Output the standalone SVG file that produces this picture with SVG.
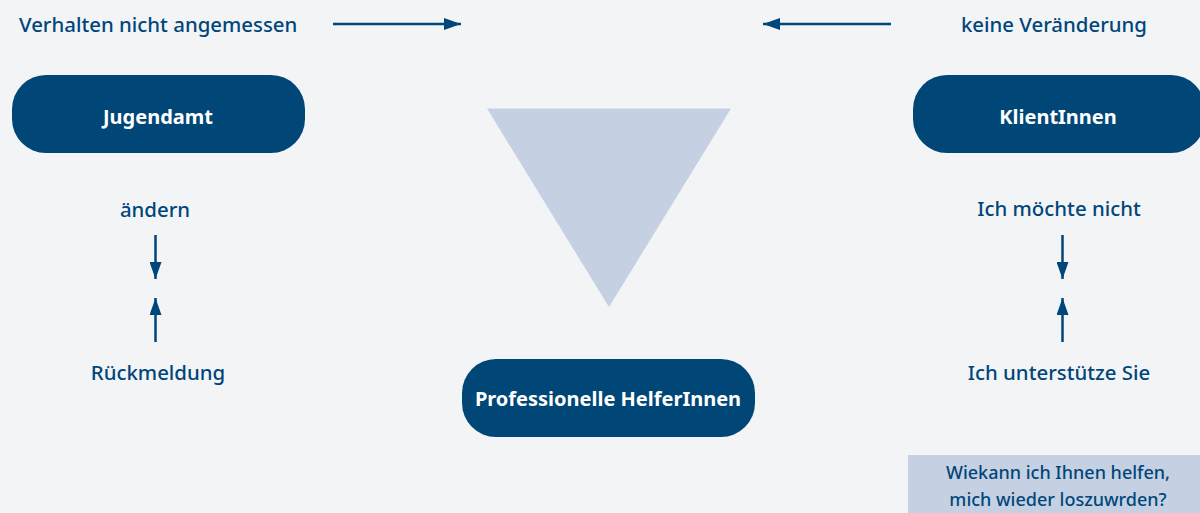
<svg xmlns="http://www.w3.org/2000/svg" width="1200" height="513" viewBox="0 0 1200 513">
<defs>
<style>
.lbl{font-family:"Noto Sans","Open Sans",sans-serif;font-size:20.4px;font-weight:500;fill:#00467a;}
.note{font-size:18px;}
.box{fill:#004676;}
.btxt{font-family:"Noto Sans","Open Sans",sans-serif;font-size:20px;font-weight:bold;fill:#ffffff;}
.con{stroke:#00467a;stroke-width:2.5;fill:none;}
</style>
<marker id="ah" viewBox="0 0 17 12" refX="17" refY="6" markerWidth="17" markerHeight="12" markerUnits="userSpaceOnUse" orient="auto" preserveAspectRatio="none">
<path d="M0,0 L17,6 L0,12 z" fill="#00467a"/>
</marker>
</defs>
<rect width="1200" height="513" fill="#f3f4f6"/>
<g id="triangle"><polygon points="487,108.5 731,108.5 609,307" fill="#c5d1e2"/></g>
<g id="jugendamt"><rect class="box" x="12" y="75" width="293" height="78" rx="34"/><text class="btxt" x="158" y="124" text-anchor="middle">Jugendamt</text></g>
<g id="klientinnen"><rect class="box" x="913" y="75" width="292" height="78" rx="34"/><text class="btxt" x="1058" y="124" text-anchor="middle">KlientInnen</text></g>
<g id="helfer"><rect class="box" x="462" y="359" width="293" height="78" rx="34"/><text class="btxt" x="608" y="406" text-anchor="middle">Professionelle HelferInnen</text></g>
<g id="note"><rect x="908" y="455" width="292" height="58" fill="#c5d1e2"/><text class="lbl note" x="1058" y="479" text-anchor="middle">Wiekann ich Ihnen helfen,</text><text class="lbl note" x="1058" y="506" text-anchor="middle">mich wieder loszuwrden?</text></g>
<g id="labels">
<text class="lbl" x="19" y="32">Verhalten nicht angemessen</text>
<text class="lbl" x="1147" y="32" text-anchor="end">keine Veränderung</text>
<text class="lbl" x="155" y="217" text-anchor="middle">ändern</text>
<text class="lbl" x="158" y="380" text-anchor="middle">Rückmeldung</text>
<text class="lbl" x="1059" y="216" text-anchor="middle">Ich möchte nicht</text>
<text class="lbl" x="1059" y="380" text-anchor="middle">Ich unterstütze Sie</text>
</g>
<g id="connectors">
<line class="con" x1="333" y1="24" x2="461" y2="24" marker-end="url(#ah)"/>
<line class="con" x1="891" y1="24" x2="763" y2="24" marker-end="url(#ah)"/>
<line class="con" x1="155.5" y1="235" x2="155.5" y2="279" marker-end="url(#ah)"/>
<line class="con" x1="155.5" y1="342" x2="155.5" y2="298" marker-end="url(#ah)"/>
<line class="con" x1="1062.5" y1="235" x2="1062.5" y2="279" marker-end="url(#ah)"/>
<line class="con" x1="1062.5" y1="342" x2="1062.5" y2="298" marker-end="url(#ah)"/>
</g>
</svg>
